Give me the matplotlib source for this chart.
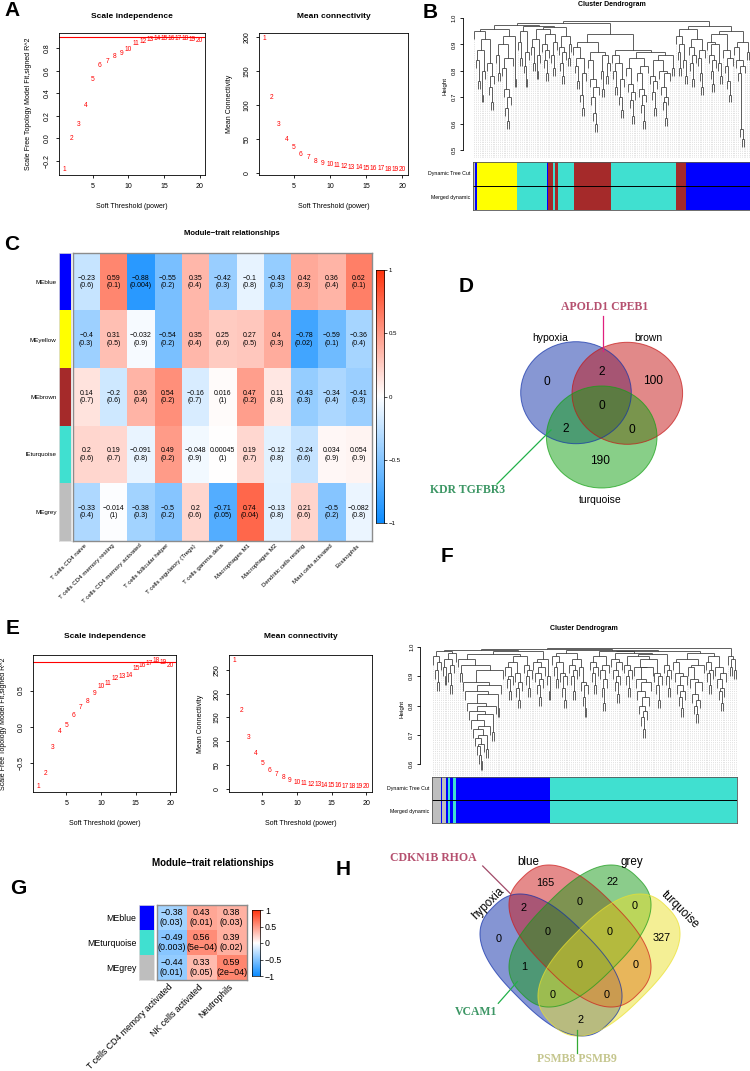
import matplotlib
matplotlib.use("Agg")
import matplotlib.pyplot as plt
import numpy as np
from matplotlib.collections import LineCollection
from matplotlib.colors import LinearSegmentedColormap, ListedColormap
from matplotlib.patches import Ellipse, Polygon

plt.rcParams["font.family"] = ["Liberation Sans", "DejaVu Sans"]
SERIF = ["Liberation Serif", "DejaVu Serif"]
W, H = 750, 1071
MINUS = "\u2212"
RCOL = {"blue": "#0000FF", "yellow": "#FFFF00", "brown": "#A52A2A",
        "turquoise": "#40E0D0", "grey": "#BEBEBE"}

# ---- soft threshold curves (A, E) -------------------------------------------
powers = list(range(1, 21))
a_fit = [-0.28, 0.0, 0.125, 0.29, 0.52, 0.65, 0.68, 0.73, 0.75, 0.79,
         0.84, 0.86, 0.88, 0.89, 0.89, 0.89, 0.89, 0.89, 0.88, 0.87]
a_conn = [198, 111, 71, 50, 37, 28, 23, 17, 14, 12,
          11, 10, 9, 8.5, 7.5, 7, 6.5, 6, 5.5, 5]
e_fit = [-0.83, -0.645, -0.29, -0.07, 0.02, 0.15, 0.26, 0.35, 0.46, 0.55,
         0.59, 0.67, 0.70, 0.71, 0.80, 0.85, 0.87, 0.92, 0.89, 0.84]
e_conn = [271, 165, 107, 73, 52, 39, 30, 23, 17, 13.5,
          11, 9.5, 8, 7, 6, 5.5, 5, 4.5, 4, 3.5]
R2_CUT = 0.9

# ---- dendrograms (B, F): merge height between neighbouring leaves ------------
b_gaps = [
    # yellow side
    0.95, 0.84, 0.76, 0.88, 0.71, 0.80, 0.92, 0.83, 0.74, 0.68, 0.78, 0.96,
    0.86, 0.79, 0.90, 0.81, 0.73, 0.66, 0.61, 0.70, 0.85, 0.93, 0.77, 0.975,
    # turquoise / small modules
    0.91, 0.85, 0.95, 0.82, 0.77, 0.87, 0.97, 0.89, 0.83, 0.92, 0.80, 0.86,
    0.96, 0.90, 0.84, 0.79, 0.88, 0.94, 0.86, 0.81, 0.91, 0.965, 0.89, 0.83,
    0.78, 0.87, 0.93, 0.85, 0.90, 0.98,
    # brown
    0.89, 0.82, 0.76, 0.85, 0.71, 0.66, 0.79, 0.91, 0.84, 0.77, 0.70, 0.64,
    0.60, 0.74, 0.87, 0.80, 0.73, 0.86, 0.78, 0.83, 0.94,
    # turquoise
    0.86, 0.80, 0.74, 0.83, 0.70, 0.65, 0.77, 0.88, 0.81, 0.75, 0.69, 0.63,
    0.72, 0.85, 0.79, 0.73, 0.67, 0.61, 0.71, 0.82, 0.87, 0.78, 0.72, 0.66,
    0.76, 0.84, 0.80, 0.74, 0.68, 0.62, 0.70, 0.79, 0.86, 0.81, 0.99,
    # brown / blue
    0.93, 0.87, 0.81, 0.90, 0.84, 0.78, 0.96, 0.89, 0.83, 0.77, 0.86, 0.92,
    0.85, 0.79, 0.74, 0.88, 0.97, 0.91, 0.86, 0.80, 0.75, 0.84, 0.90, 0.83,
    0.78, 0.94, 0.88, 0.82, 0.76, 0.71, 0.85, 0.95, 0.89, 0.84, 0.79, 0.58,
    0.54, 0.82, 0.91, 0.87]
b_mod_colors = ["grey", "blue", "yellow", "turquoise", "blue", "brown", "turquoise",
                "brown", "turquoise", "brown", "turquoise", "brown", "blue"]
b_mod_sizes = [2, 2, 40, 30, 1, 4, 2, 3, 16, 37, 65, 10, 64]

f_gaps = [
    0.97, 0.92, 0.88, 0.95, 0.985, 0.93, 0.90, 0.96, 0.91, 0.87, 0.94, 0.98, 0.99,
    0.96, 0.91, 0.94, 0.88, 0.85, 0.81, 0.78, 0.75, 0.72, 0.69,
    0.66, 0.63, 0.61, 0.67, 0.70, 0.65, 0.73, 0.77, 0.71, 0.80,
    0.84, 0.79, 0.87, 0.92, 0.975, 0.93, 0.89, 0.85, 0.90, 0.95,
    0.91, 0.86, 0.82, 0.88, 0.97, 0.94, 0.90, 0.86, 0.92, 0.985,
    0.95, 0.91, 0.87, 0.83, 0.89, 0.93, 0.96, 0.90, 0.85, 0.992,
    0.97, 0.93, 0.89, 0.95, 0.91, 0.86, 0.82, 0.90, 0.98, 0.94,
    0.90, 0.85, 0.92, 0.96, 0.93, 0.88, 0.83, 0.79, 0.87, 0.99,
    0.95, 0.91, 0.87, 0.93, 0.97, 0.92, 0.86, 0.81, 0.89, 0.94,
    0.985, 0.96, 0.92, 0.88, 0.84, 0.90, 0.95, 0.98, 0.94, 0.90,
    0.86, 0.92, 0.97, 0.93, 0.89, 0.85, 0.80, 0.76, 0.72, 0.78,
    0.83, 0.88, 0.93, 0.96, 0.91, 0.87, 0.82, 0.90, 0.975, 0.94,
    0.90, 0.86, 0.92, 0.988, 0.95, 0.91, 0.87, 0.83, 0.79, 0.85,
    0.90, 0.96, 0.93, 0.89, 0.84, 0.80, 0.77, 0.82, 0.88, 0.94,
    0.98, 0.95, 0.91, 0.87, 0.92, 0.97, 0.93, 0.89, 0.85, 0.81,
    0.86, 0.91, 0.995, 0.97, 0.93, 0.96, 0.92]
f_mod_colors = ["grey", "blue", "grey", "blue", "turquoise", "blue", "turquoise",
                "blue", "turquoise"]
f_mod_sizes = [9, 1, 4, 2, 2, 3, 3, 94, 187]

# ---- module-trait heatmaps (C, G) -------------------------------------------
c_modules = ["MEblue", "MEyellow", "MEbrown", "lEturquoise", "MEgrey"]
c_mod_colors = ["blue", "yellow", "brown", "turquoise", "grey"]
c_traits = ["T cells CD4 naive", "T cells CD4 memory resting",
            "T cells CD4 memory activated", "T cells follicular helper",
            "T cells regulatory (Tregs)", "T cells gamma delta", "Macrophages M1",
            "Macrophages M2", "Dendritic cells resting", "Mast cells activated",
            "Eosinophils"]
c_cor = [[-0.23, 0.59, -0.88, -0.55, 0.35, -0.42, -0.1, -0.43, 0.42, 0.36, 0.62],
         [-0.4, 0.31, -0.032, -0.54, 0.35, 0.25, 0.27, 0.4, -0.78, -0.59, -0.36],
         [0.14, -0.2, 0.36, 0.54, -0.16, 0.016, 0.47, 0.11, -0.43, -0.34, -0.41],
         [0.2, 0.19, -0.091, 0.49, -0.048, 0.00045, 0.19, -0.12, -0.24, 0.034, 0.054],
         [-0.33, -0.014, -0.38, -0.5, 0.2, -0.71, 0.74, -0.13, 0.21, -0.5, -0.082]]
c_p = [["0.6", "0.1", "0.004", "0.2", "0.4", "0.3", "0.8", "0.3", "0.3", "0.4", "0.1"],
       ["0.3", "0.5", "0.9", "0.2", "0.4", "0.6", "0.5", "0.3", "0.02", "0.1", "0.4"],
       ["0.7", "0.6", "0.4", "0.2", "0.7", "1", "0.2", "0.8", "0.3", "0.4", "0.3"],
       ["0.6", "0.7", "0.8", "0.2", "0.9", "1", "0.7", "0.8", "0.6", "0.9", "0.9"],
       ["0.4", "1", "0.3", "0.2", "0.6", "0.05", "0.04", "0.8", "0.6", "0.2", "0.8"]]

g_modules = ["MEblue", "MEturquoise", "MEgrey"]
g_mod_colors = ["blue", "turquoise", "grey"]
g_traits = ["T cells CD4 memory activated", "NK cells activated", "Neutrophils"]
g_cor = [[-0.38, 0.43, 0.38],
         [-0.49, 0.56, 0.39],
         [-0.44, 0.33, 0.59]]
g_p = [["0.03", "0.01", "0.03"],
       ["0.003", "5e-04", "0.02"],
       ["0.01", "0.05", "2e-04"]]

# ---- venn diagrams (D, H) ---------------------------------------------------
d_sets = ["hypoxia", "brown", "turquoise"]
d_fills = ["#1131A9", "#C51515", "#13A113"]
d_regions = ["h", "hb", "b", "hbt", "ht", "bt", "t"]
d_counts = [0, 2, 100, 0, 2, 0, 190]

h_sets = ["hypoxia", "blue", "grey", "turquoise"]
h_fills = ["#0D2DA9", "#CD1919", "#199B19", "#EBE12D"]
h_regions = ["b", "g", "hb", "bg", "gt", "h", "hbg", "bgt", "t", "hg", "hbgt",
             "bt", "hgt", "hbt", "ht"]
h_counts = [165, 22, 2, 0, 0, 0, 0, 0, 327, 1, 0, 0, 0, 0, 2]

# ---- layout helpers ---------------------------------------------------------
fig = plt.figure(figsize=(W / 100, H / 100), dpi=100)


def axes_px(x0, y0, x1, y1):
    return fig.add_axes([x0 / W, 1 - y1 / H, (x1 - x0) / W, (y1 - y0) / H])


def text_px(x, y, s, **kw):
    fig.text(x / W, 1 - y / H, s, **kw)


def fmt(v):
    return f"{v:g}".replace("-", MINUS)


cmap = LinearSegmentedColormap.from_list(
    "bwr_wgcna", [(0.05, 0.55, 1.0), (1, 1, 1), (1.0, 0.2, 0.05)])


def sft_panel(box, vals, title, ylabel, yticks, tx, ty, xly, yl_x, hline=None):
    ax = axes_px(*box)
    lo, hi = min(vals), max(vals)
    pad = 0.04 * (hi - lo)
    ax.set_xlim(1 - 0.04 * 19, 20 + 0.04 * 19)
    ax.set_ylim(lo - pad, hi + pad)
    for p, v in zip(powers, vals):
        ax.text(p, v, str(p), color="red", ha="center", va="center", fontsize=4.8)
    if hline is not None:
        ax.axhline(hline, color="red", lw=0.8)
    ax.set_xticks([5, 10, 15, 20])
    ax.set_yticks(yticks)
    ax.set_yticklabels([fmt(t) if t != 0 else ("0.0" if isinstance(t, float) else "0")
                        for t in yticks], rotation=90, va="center")
    ax.tick_params(labelsize=5, length=2.5, width=0.6, pad=3.5)
    for s in ax.spines.values():
        s.set_linewidth(0.6)
    text_px(tx, ty, title, ha="center", va="center", fontsize=6, fontweight="bold")
    text_px((box[0] + box[2]) / 2, xly, "Soft Threshold (power)", ha="center",
            va="center", fontsize=5)
    text_px(yl_x, (box[1] + box[3]) / 2, ylabel, ha="center", va="center",
            fontsize=5, rotation=90)
    return ax


def dendro_panel(box, yv, gaps, title, title_xy, ticks, bars, split, colors, sizes,
                 lab_x, axis_out):
    ax = axes_px(*box)
    n = len(gaps) + 1
    hang = 0.03
    segs, leaves = [], []

    def build(lo, hi):
        if lo == hi:
            return lo, None
        k = lo + int(np.argmax(gaps[lo:hi]))
        h = gaps[k]
        kids = [build(lo, k), build(k + 1, hi)]
        for x, hk in kids:
            if hk is None:
                leaves.append((x, h - hang))
                segs.append([(x, h - hang), (x, h)])
            else:
                segs.append([(x, hk), (x, h)])
        segs.append([(kids[0][0], h), (kids[1][0], h)])
        return (kids[0][0] + kids[1][0]) / 2, h

    build(0, n - 1)
    ax.set_xlim(-0.5, n - 0.5)
    ax.set_ylim(*yv)
    guides = [[(x, yv[0]), (x, b)] for x, b in leaves]
    ax.add_collection(LineCollection(guides, colors="#cccccc", linewidths=0.4,
                                     linestyles=(0, (2, 2))))
    ax.add_collection(LineCollection(segs, colors="#333333", linewidths=0.55))
    for s in ["top", "right", "bottom"]:
        ax.spines[s].set_visible(False)
    ax.spines["left"].set_position(("outward", axis_out))
    ax.spines["left"].set_bounds(ticks[0], ticks[-1])
    ax.spines["left"].set_linewidth(0.6)
    ax.set_xticks([])
    ax.set_yticks(ticks)
    ax.set_yticklabels([f"{t:.1f}" for t in ticks], rotation=90, va="center")
    ax.tick_params(labelsize=4.3, length=2.5, width=0.6, pad=2)
    ax.set_ylabel("Height", fontsize=4.5, labelpad=3)
    text_px(*title_xy, title, ha="center", va="center", fontsize=5, fontweight="bold")

    bx = axes_px(box[0], bars[0], box[2], bars[1])
    left = np.concatenate([[0], np.cumsum(sizes)[:-1]])
    for row in (0, 1):
        bx.barh(row, sizes, left=left, height=1, color=[RCOL[c] for c in colors],
                linewidth=0)
    bx.axhline(0.5, color="black", lw=0.7)
    bx.set_xlim(0, sum(sizes))
    bx.set_ylim(1.5, -0.5)
    bx.set_xticks([])
    bx.set_yticks([])
    for s in bx.spines.values():
        s.set_linewidth(0.6)
        s.set_color("#555555")
    text_px(lab_x, (bars[0] + split) / 2, "Dynamic Tree Cut", ha="right",
            va="center", fontsize=3.8)
    text_px(lab_x, (split + bars[1]) / 2, "Merged dynamic", ha="right",
            va="center", fontsize=3.8)


def heat_panel(strip, cells, cbar, modules, mcolors, traits, cor, pv, title, title_xy,
               fs_cell, fs_lab, fs_col, fs_title, col_pad):
    sx = axes_px(*strip)
    sx.imshow(np.arange(len(modules))[:, None], aspect="auto",
              cmap=ListedColormap([RCOL[c] for c in mcolors]))
    sx.set_xticks([])
    sx.set_yticks(range(len(modules)))
    sx.set_yticklabels(modules, fontsize=fs_lab)
    sx.tick_params(length=0, pad=2)
    for s in sx.spines.values():
        s.set_color("#dddddd")
        s.set_linewidth(0.6)

    hx = axes_px(*cells)
    hx.imshow(np.array(cor), cmap=cmap, vmin=-1, vmax=1, aspect="auto")
    for i, row in enumerate(cor):
        for j, v in enumerate(row):
            hx.text(j, i, f"{fmt(v)}\n({pv[i][j].replace('-', MINUS)})",
                    ha="center", va="center", fontsize=fs_cell, linespacing=1.15)
    hx.set_yticks([])
    hx.set_xticks(range(len(traits)))
    hx.set_xticklabels(traits, rotation=45, ha="right", va="center",
                       rotation_mode="anchor", fontsize=fs_col)
    hx.tick_params(length=0, pad=col_pad)
    for s in hx.spines.values():
        s.set_color("#8c8c8c")
        s.set_linewidth(1.0)

    cx = axes_px(*cbar)
    cx.imshow(np.linspace(1, -1, 200)[:, None], cmap=cmap, vmin=-1, vmax=1,
              aspect="auto", extent=(0, 1, -1, 1))
    cx.set_xticks([])
    cx.yaxis.tick_right()
    ticks = [1, 0.5, 0, -0.5, -1]
    cx.set_yticks(ticks)
    cx.set_yticklabels([fmt(t) for t in ticks], fontsize=fs_col)
    cx.tick_params(length=2.5, width=0.5, pad=1)
    for s in cx.spines.values():
        s.set_linewidth(0.5)
    text_px(*title_xy, title, ha="center", va="center", fontsize=fs_title,
            fontweight="bold")


# ---- A ----------------------------------------------------------------------
sft_panel((59, 33, 205, 175), a_fit, "Scale independence",
          "Scale Free Topology Model Fit,signed R^2",
          [-0.2, 0.0, 0.2, 0.4, 0.6, 0.8], 132, 16, 206.7, 28.3, hline=R2_CUT)
sft_panel((259, 33, 408, 175), a_conn, "Mean connectivity", "Mean Connectivity",
          [0, 50, 100, 150, 200], 333.5, 16, 206.7, 229.3)

# ---- E ----------------------------------------------------------------------
sft_panel((33.3, 655, 175.7, 792), e_fit, "Scale independence",
          "Scale Free Topology Model Fit,signed R^2",
          [-0.5, 0.0, 0.5], 104.5, 636.7, 823.3, 4, hline=R2_CUT)
sft_panel((229.3, 655, 371.5, 792), e_conn, "Mean connectivity", "Mean Connectivity",
          [0, 50, 100, 150, 200, 250], 300.4, 636.7, 823.3, 200)

# ---- B, F -------------------------------------------------------------------
dendro_panel((473.3, 14, 750, 158), (0.4697, 1.0152), b_gaps, "Cluster Dendrogram",
             (612, 4), [0.5, 0.6, 0.7, 0.8, 0.9, 1.0], (162, 210), 186,
             b_mod_colors, b_mod_sizes, 470, 7.4)
dendro_panel((432.3, 643, 736.7, 776), (0.559, 1.0137), f_gaps, "Cluster Dendrogram",
             (584, 629), [0.6, 0.7, 0.8, 0.9, 1.0], (777, 823), 800.7,
             f_mod_colors, f_mod_sizes, 429, 8.6)

# ---- C, G -------------------------------------------------------------------
heat_panel((59.3, 253.3, 71, 540.7), (72.7, 253.3, 372.3, 540.7),
           (375.7, 270, 384, 523.3), c_modules, c_mod_colors, c_traits, c_cor, c_p,
           "Module\u2212trait relationships", (232, 233.3), 5, 4.5, 4.4, 5.5, 3)
heat_panel((139.3, 905, 154, 980), (156.7, 905, 246.7, 980),
           (251.7, 910, 260, 976), g_modules, g_mod_colors, g_traits, g_cor, g_p,
           "Module\u2212trait relationships", (213, 863.3), 6.4, 6.3, 6.3, 7, 4)

# ---- venn overlay (pixel coordinates) ----------------------------------------
ov = fig.add_axes([0, 0, 1, 1])
ov.set_xlim(0, W)
ov.set_ylim(H, 0)
ov.axis("off")
ov.patch.set_alpha(0)

d_shapes = [(576, 392.7, 110.6, 102, 0), (627.3, 393.3, 110.6, 102, 0),
            (601.7, 437, 110.6, 102, 0)]
d_num_xy = [(547.3, 381.7), (601.7, 372.3), (653.3, 381), (601.7, 406),
            (566, 429), (632.3, 430), (600, 461)]
d_lab_xy = [(550, 338.3, 0), (648.3, 338.3, 0), (600, 500, 0)]

# rounded (super-elliptic) sets for the four-way diagram: cx, cy, a, b, angle
h_shapes = [(551, 965, 82, 46, 45), (580, 936, 82, 46, 45),
            (580, 936, 82, 46, -45), (609, 965, 82, 46, -45)]
h_num_xy = [(545, 882.7), (612.7, 881.7), (523.3, 908.3), (580, 902.3),
            (634.3, 906), (498.3, 939.3), (547.7, 932.3), (610, 932.3),
            (661.7, 938.3), (524.3, 966.7), (580, 965), (635.7, 965),
            (552.3, 995), (606.7, 995), (580, 1020)]
h_lab_xy = [(488.3, 903.3, 45), (528.7, 861.7, 0), (631.7, 861.7, 0),
            (680, 910, -45)]


def superellipse(cx, cy, a, b, ang, n=2.6, m=240):
    t = np.linspace(0, 2 * np.pi, m)
    x = a * np.sign(np.cos(t)) * np.abs(np.cos(t)) ** (2 / n)
    y = b * np.sign(np.sin(t)) * np.abs(np.sin(t)) ** (2 / n)
    r = np.deg2rad(ang)
    return np.column_stack([cx + x * np.cos(r) - y * np.sin(r),
                            cy + x * np.sin(r) + y * np.cos(r)])


def draw_labels(counts, num_xy, names, lab_xy, fs_num, fs_lab):
    for (x, y), n in zip(num_xy, counts):
        ov.text(x, y, str(n), ha="center", va="center", fontsize=fs_num)
    for (x, y, r), s in zip(lab_xy, names):
        ov.text(x, y, s, ha="center", va="center", fontsize=fs_lab, rotation=r)


for (x, y, w, h, a), c in zip(d_shapes, d_fills):
    ov.add_patch(Ellipse((x, y), w, h, angle=a, facecolor=c, alpha=0.5,
                         edgecolor="none"))
for (x, y, w, h, a), c in zip(d_shapes, d_fills):
    ov.add_patch(Ellipse((x, y), w, h, angle=a, facecolor="none", edgecolor=c,
                         alpha=0.7, lw=0.7))
draw_labels(d_counts, d_num_xy, d_sets, d_lab_xy, 8.6, 7.5)

for shp, c in zip(h_shapes, h_fills):
    ov.add_patch(Polygon(superellipse(*shp), closed=True, facecolor=c, alpha=0.5,
                         edgecolor="none"))
for shp, c in zip(h_shapes, h_fills):
    ov.add_patch(Polygon(superellipse(*shp), closed=True, facecolor="none",
                         edgecolor=c, alpha=0.7, lw=0.7))
draw_labels(h_counts, h_num_xy, h_sets, h_lab_xy, 7.8, 8.4)

# gene call-outs
ov.text(605, 307.3, "APOLD1 CPEB1", ha="center", va="center", fontsize=8.5,
        family=SERIF, fontweight="bold", color="#b5506f")
ov.plot([603, 603], [316, 350.7], color="#e0207f", lw=0.9)
ov.text(468, 490, "KDR TGFBR3", ha="center", va="center", fontsize=8.5,
        family=SERIF, fontweight="bold", color="#3c9664")
ov.plot([551, 497], [430, 484], color="#22b04a", lw=0.9)

ov.text(433.3, 858.3, "CDKN1B RHOA", ha="center", va="center", fontsize=8.5,
        family=SERIF, fontweight="bold", color="#b5506f")
ov.plot([482.7, 510.7], [866, 894], color="#a04a68", lw=0.9)
ov.text(476, 1011.7, "VCAM1", ha="center", va="center", fontsize=8.5,
        family=SERIF, fontweight="bold", color="#3c9664")
ov.plot([517.3, 498.3], [981.7, 1003.3], color="#22b04a", lw=0.9)
ov.text(576.7, 1059.3, "PSMB8 PSMB9", ha="center", va="center", fontsize=8.5,
        family=SERIF, fontweight="bold", color="#c5c68e")
ov.plot([576.7, 576.7], [1030, 1053.3], color="#33aa33", lw=0.9)

# ---- panel letters ----------------------------------------------------------
for s, x, y in [("A", 11.7, 11), ("B", 430, 12), ("C", 12, 245), ("D", 466, 287),
                ("E", 13, 629), ("F", 447, 557), ("G", 18, 889), ("H", 343, 869.5)]:
    text_px(x, y, s, ha="center", va="center", fontsize=15, fontweight="bold")

fig.savefig("out.png", dpi=100, facecolor="white")
